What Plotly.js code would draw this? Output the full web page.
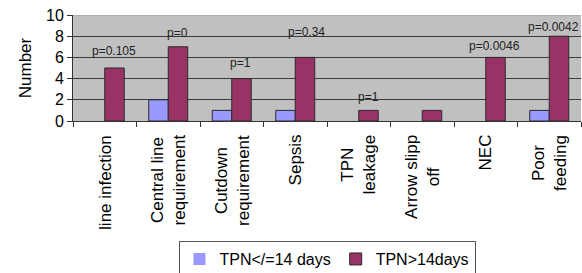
<!DOCTYPE html>
<html>
<head>
<meta charset="utf-8">
<script src="https://cdn.plot.ly/plotly-3.0.1.min.js"></script>
<style>html,body{margin:0;padding:0;background:#fff;}#chart{width:582px;height:273px;}</style>
</head>
<body>
<div id="chart"></div>
<script>
// ---- data ----
var categories = ["line infection", "Central line<br>requirement", "Cutdown<br>requirement", "Sepsis",
                  "TPN<br>leakage", "Arrow slipp<br>off", "NEC", "Poor<br>feeding"];
var seriesNames = ["TPN&lt;/=14 days", "TPN&gt;14days"];
var tpnShort = [0, 2, 1, 1, 0, 0, 0, 1];
var tpnLong = [5, 7, 4, 6, 1, 1, 6, 8];
var pValues = ["p=0.105", "p=0", "p=1", "p=0.34", "p=1", "", "p=0.0046", "p=0.0042"];
var yTicks = [0, 2, 4, 6, 8, 10];

// ---- label placement (layout, not data) ----
var pLabelY = [6.6, 8.3, 5.5, 8.4, 2.3, 0, 7.1, 8.9];
var pLabelShift = [9, 9, 9, 11, 10, 0, 9, 4];

var FONT = "Liberation Sans, Arial, sans-serif";

function outlineWidths(vals) { return vals.map(function (v) { return v > 0 ? 1 : 0; }); }

var traces = [
  {type: "bar", name: seriesNames[0], x: categories, y: tpnShort,
   marker: {color: "#9999FF", line: {color: "#2a2a2a", width: outlineWidths(tpnShort)}}},
  {type: "bar", name: seriesNames[1], x: categories, y: tpnLong,
   marker: {color: "#993366", line: {color: "#2a2a2a", width: outlineWidths(tpnLong)}}}
];

var annotations = [];
categories.forEach(function (c, i) {
  annotations.push({
    x: c, xref: "x", y: -0.11, yref: "paper",
    text: c, textangle: -90, showarrow: false,
    xanchor: "center", yanchor: "top", align: "center",
    font: {family: FONT, size: 17, color: "#000"}
  });
  if (pValues[i]) {
    annotations.push({
      x: c, xref: "x", y: pLabelY[i], yref: "y",
      text: pValues[i], showarrow: false, xshift: pLabelShift[i],
      xanchor: "center", yanchor: "middle",
      font: {family: FONT, size: 12, color: "#222"}
    });
  }
});

var layout = {
  width: 582, height: 273,
  margin: {l: 73, r: 1, t: 15, b: 152, pad: 0},
  paper_bgcolor: "#ffffff",
  plot_bgcolor: "#C0C0C0",
  barmode: "group",
  bargap: 0.386,
  bargroupgap: 0,
  showlegend: true,
  legend: {
    orientation: "h", xref: "paper", x: 0.5, xanchor: "center",
    yref: "container", y: 0.117, yanchor: "top",
    bordercolor: "#555", borderwidth: 1, bgcolor: "#fff",
    font: {family: FONT, size: 16, color: "#000"},
    itemwidth: 30, traceorder: "normal"
  },
  xaxis: {
    type: "category", showticklabels: false,
    ticks: "outside", ticklen: 5, tickcolor: "#333", tickson: "boundaries",
    showline: true, linecolor: "#333", linewidth: 1,
    showgrid: false, zeroline: false, fixedrange: true
  },
  yaxis: {
    range: [0, 10], tickvals: yTicks, ticktext: yTicks.map(String),
    ticks: "outside", ticklen: 5, tickcolor: "#333",
    showline: true, linecolor: "#333", linewidth: 1,
    showgrid: true, gridcolor: "#3a3a3a", gridwidth: 1, zeroline: false,
    tickfont: {family: FONT, size: 16, color: "#000"},
    title: {text: "Number", font: {family: FONT, size: 17, color: "#000"}, standoff: 10},
    automargin: false, fixedrange: true
  },
  shapes: [{type: "line", xref: "paper", yref: "y", x0: 0, x1: 1, y0: 10, y1: 10,
            line: {color: "#9a9a9a", width: 1}, layer: "above"}],
  annotations: annotations,
  font: {family: FONT}
};

Plotly.newPlot("chart", traces, layout, {displayModeBar: false, staticPlot: true});
</script>
</body>
</html>
